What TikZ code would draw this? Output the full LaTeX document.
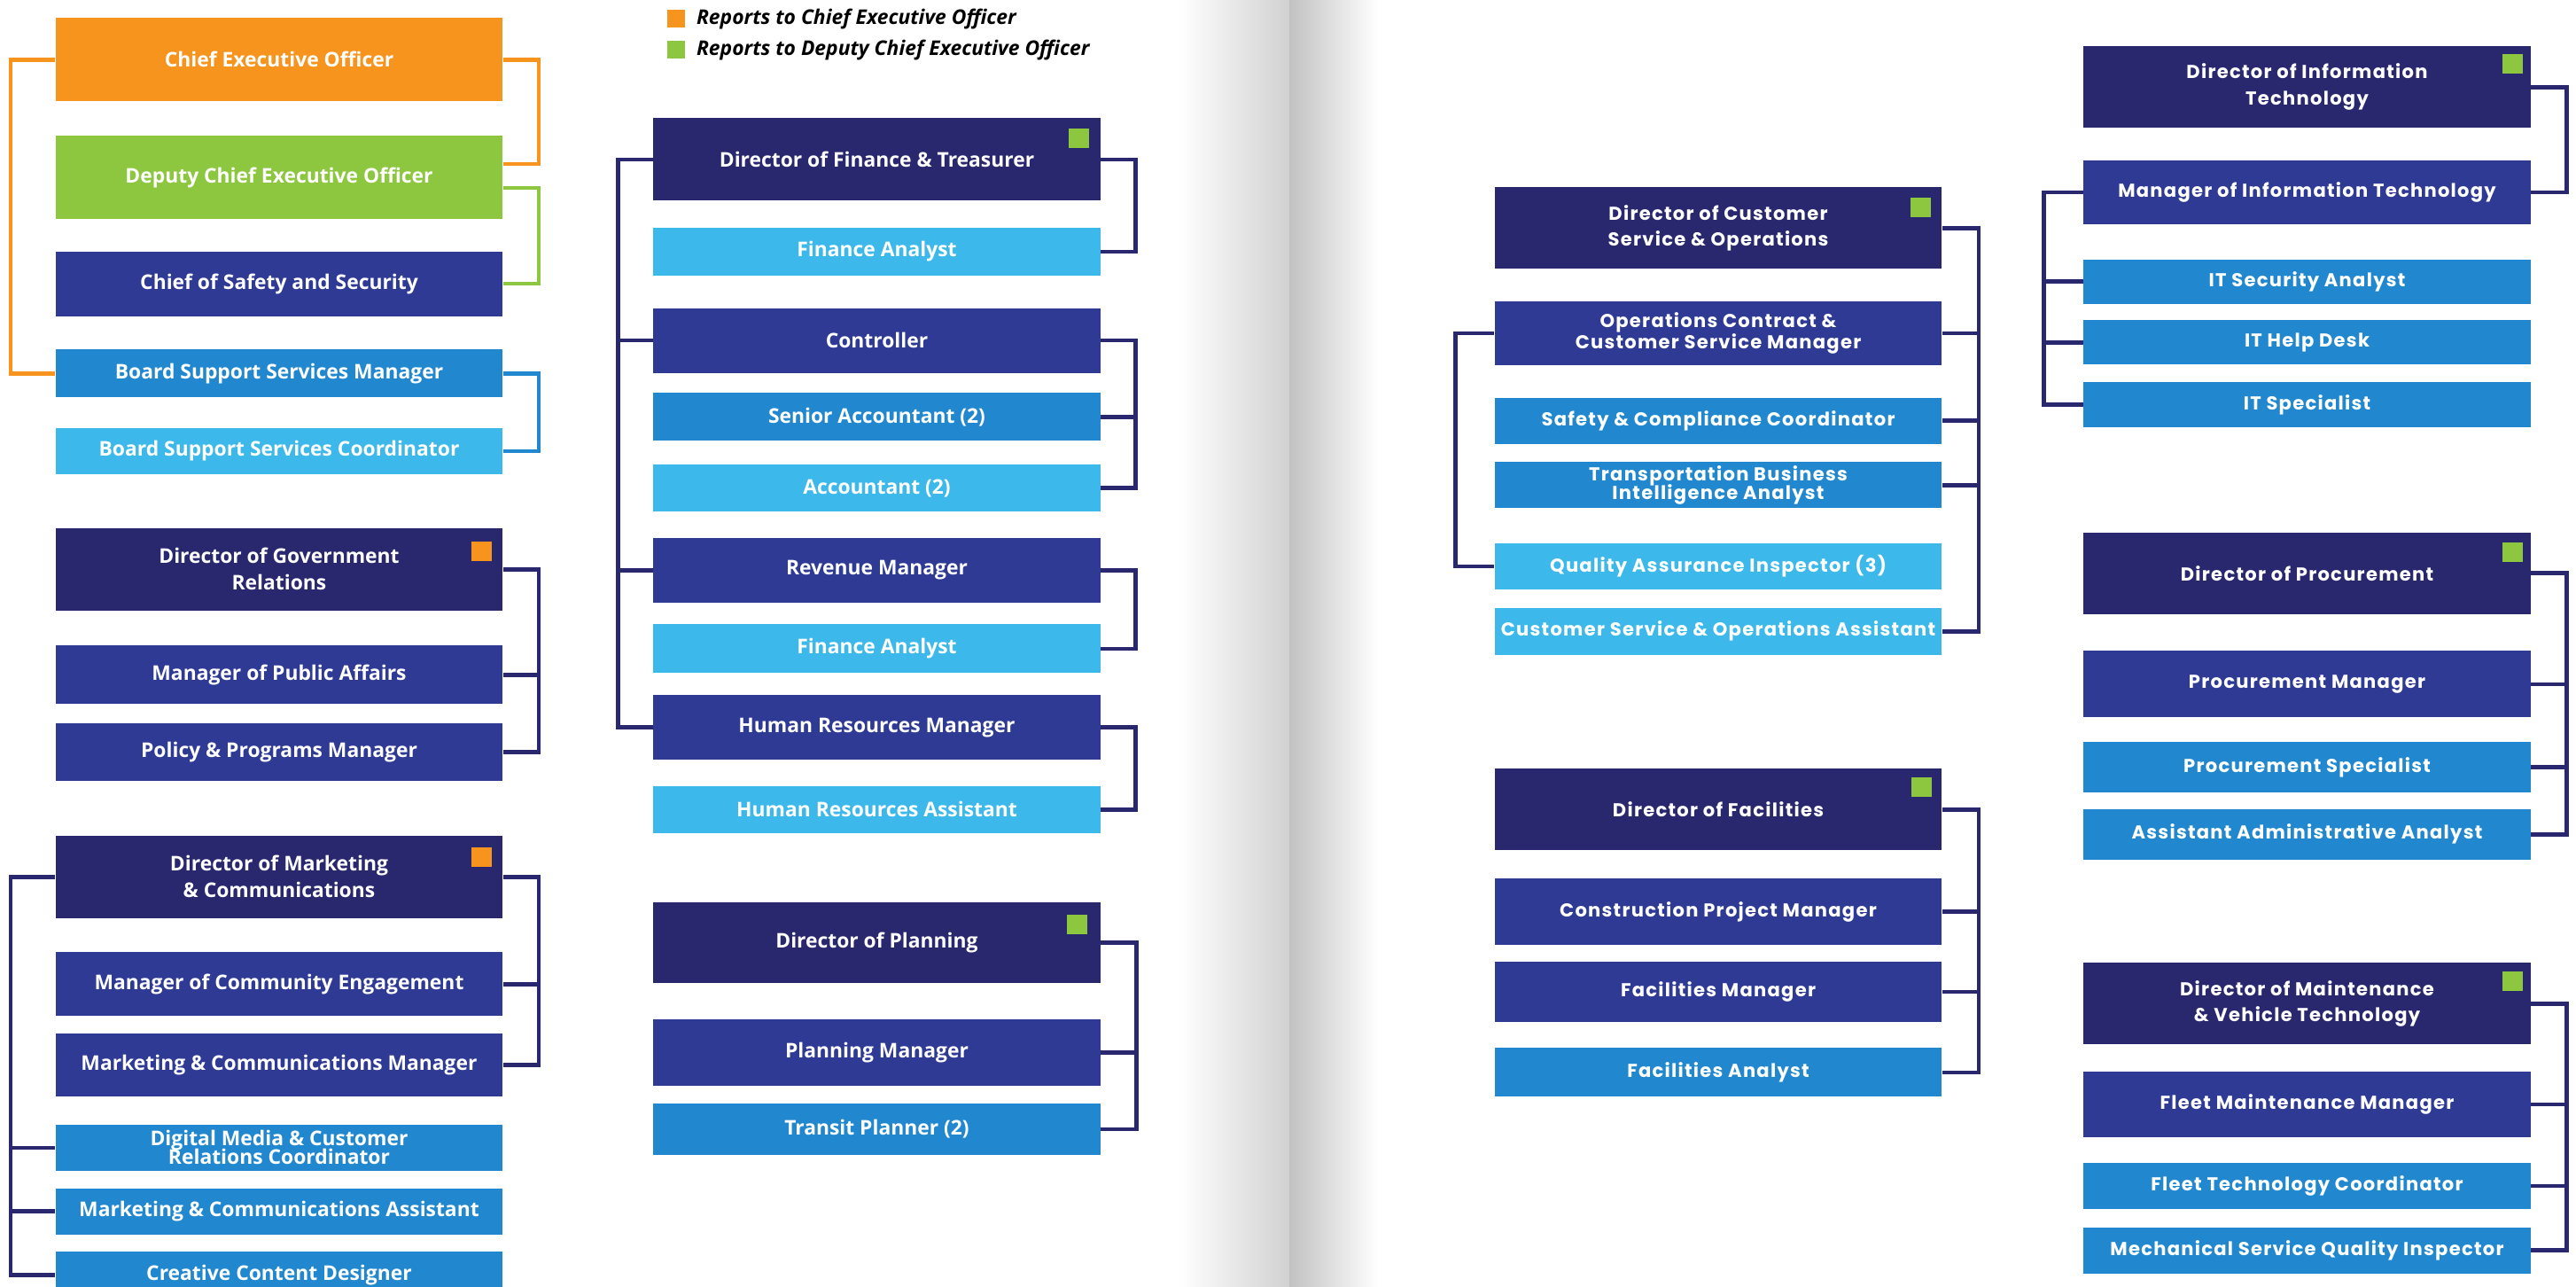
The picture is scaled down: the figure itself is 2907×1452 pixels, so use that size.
\documentclass[tikz,border=0pt]{standalone}
\usepackage{fontspec}
\setmainfont{Open Sans}
\newfontfamily\widefont{Poppins}[LetterSpace=6]
\usetikzlibrary{positioning}

\definecolor{orgorange}{HTML}{F7941D}
\definecolor{orggreen}{HTML}{8DC63F}
\definecolor{orgnavy}{HTML}{29286E}
\definecolor{orgroyal}{HTML}{2E3A94}
\definecolor{orgmid}{HTML}{2188CF}
\definecolor{orglight}{HTML}{3CB9EA}

\newcommand{\lpost}{\fontsize{13}{14}\selectfont\bfseries}
\newcommand{\rpost}{\widefont\fontsize{12}{13.5}\selectfont\bfseries}
\newcommand{\keyfont}{\fontsize{13}{14}\selectfont\bfseries\itshape}

\begin{document}
\begin{tikzpicture}[x=0.02cm, y=-0.02cm,
  post/.style={rectangle,inner sep=0pt,minimum width=10.1cm,text=white,align=center,font=\lpost},
  ceobox/.style={post,fill=orgorange},
  depbox/.style={post,fill=orggreen},
  dirbox/.style={post,fill=orgnavy},
  mgrbox/.style={post,fill=orgroyal},
  staffbox/.style={post,fill=orgmid},
  aidebox/.style={post,fill=orglight},
  rp/.style={font=\rpost},
  orgtag/.style={rectangle,inner sep=0pt,minimum width=0.46cm,minimum height=0.44cm,anchor=north east},
  link/.style={line width=2.6pt,draw=orgnavy},
  keybox/.style={rectangle,inner sep=0pt,minimum size=0.4cm,anchor=north west},
  keytext/.style={inner sep=0pt,font=\keyfont,text=black}]
\useasboundingbox (0,0) rectangle (2907,1452);
\fill[white] (0,0) rectangle (2907,1452);
% page gutter
\shade[left color=white,right color=black!18] (1330,0) rectangle (1455,1452);
\shade[left color=black!24,right color=white] (1455,0) rectangle (1555,1452);

% legend
\node[keybox,fill=orgorange] (keyceo) at (753,11) {};
\node[keytext,right=0.24cm of keyceo] (keyceotext) {Reports to Chief Executive Officer};
\node[keybox,fill=orggreen] (keydep) at (753,46) {};
\node[keytext,right=0.24cm of keydep] (keydeptext) {Reports to Deputy Chief Executive Officer};

% executive office
\node[ceobox,anchor=north,minimum height=1.88cm] (ceo) at (315,20) {Chief Executive Officer};
\node[depbox,below=0.76cm of ceo,minimum height=1.88cm] (dceo) {Deputy Chief Executive Officer};
\node[mgrbox,below=0.72cm of dceo,minimum height=1.46cm] (css) {Chief of Safety and Security};
\node[staffbox,below=0.74cm of css,minimum height=1.08cm] (bssm) {Board Support Services Manager};
\node[aidebox,below=0.68cm of bssm,minimum height=1.04cm] (bssc) {Board Support Services Coordinator};
\draw[link,draw=orgorange] (ceo.west) -- ++(-1cm,0) |- (bssm.west);
\draw[link,draw=orgorange] (ceo.east) -- ++(0.8cm,0) |- ([yshift=0.3cm]dceo.east);
\draw[link,draw=orggreen] ([yshift=-0.24cm]dceo.east) -- ++(0.8cm,0) |- (css.east);
\draw[link,draw=orgmid] (bssm.east) -- ++(0.8cm,0) |- (bssc.east);

% government relations
\node[dirbox,below=1.2cm of bssc,minimum height=1.86cm] (dgr) {Director of Government\\[3pt]Relations};
\node[mgrbox,below=0.78cm of dgr,minimum height=1.32cm] (mpa) {Manager of Public Affairs};
\node[mgrbox,below=0.42cm of mpa,minimum height=1.30cm] (ppm) {Policy \& Programs Manager};
\node[orgtag,fill=orgorange] (dgrtag) at ([xshift=-0.24cm,yshift=-0.3cm]dgr.north east) {};
\draw[link] (dgr.east) -- ++(0.8cm,0) coordinate (dgrx) |- (ppm.east);
\draw[link] (mpa.east) -- (mpa.east -| dgrx);

% marketing
\node[dirbox,below=1.22cm of ppm,minimum height=1.86cm] (dmc) {Director of Marketing\\[3pt]\& Communications};
\node[mgrbox,below=0.76cm of dmc,minimum height=1.44cm] (mce) {Manager of Community Engagement};
\node[mgrbox,below=0.38cm of mce,minimum height=1.42cm] (mcm) {Marketing \& Communications Manager};
\node[staffbox,below=0.62cm of mcm,minimum height=1.04cm] (dmcr) {Digital Media \& Customer\\[-2pt]Relations Coordinator};
\node[staffbox,below=0.38cm of dmcr,minimum height=1.04cm] (mca) {Marketing \& Communications Assistant};
\node[staffbox,below=0.38cm of mca,minimum height=1.04cm] (ccd) {Creative Content Designer};
\node[orgtag,fill=orgorange] (dmctag) at ([xshift=-0.24cm,yshift=-0.26cm]dmc.north east) {};
\draw[link] (dmc.east) -- ++(0.8cm,0) coordinate (dmcx) |- (mcm.east);
\draw[link] (mce.east) -- (mce.east -| dmcx);
\draw[link] (dmc.west) -- ++(-1cm,0) coordinate (dmcw) |- (ccd.west);
\draw[link] (dmcr.west) -- (dmcr.west -| dmcw);
\draw[link] (mca.west) -- (mca.west -| dmcw);

% finance
\node[dirbox,anchor=north,minimum height=1.86cm] (dfin) at (989.5,133) {Director of Finance \& Treasurer};
\node[aidebox,below=0.6cm of dfin,minimum height=1.08cm] (fina) {Finance Analyst};
\node[mgrbox,below=0.72cm of fina,minimum height=1.46cm] (ctrl) {Controller};
\node[staffbox,below=0.44cm of ctrl,minimum height=1.08cm] (sacc) {Senior Accountant (2)};
\node[aidebox,below=0.52cm of sacc,minimum height=1.06cm] (acc) {Accountant (2)};
\node[mgrbox,below=0.58cm of acc,minimum height=1.46cm] (rev) {Revenue Manager};
\node[aidebox,below=0.48cm of rev,minimum height=1.10cm] (finb) {Finance Analyst};
\node[mgrbox,below=0.48cm of finb,minimum height=1.46cm] (hrm) {Human Resources Manager};
\node[aidebox,below=0.58cm of hrm,minimum height=1.06cm] (hra) {Human Resources Assistant};
\node[orgtag,fill=orggreen] (dfintag) at ([xshift=-0.26cm,yshift=-0.24cm]dfin.north east) {};
\draw[link] (dfin.west) -- ++(-0.78cm,0) coordinate (finw) |- (hrm.west);
\draw[link] (ctrl.west) -- (ctrl.west -| finw);
\draw[link] (rev.west) -- (rev.west -| finw);
\draw[link] (dfin.east) -- ++(0.78cm,0) |- (fina.east);
\draw[link] (ctrl.east) -- ++(0.78cm,0) coordinate (ctrlx) |- (acc.east);
\draw[link] (sacc.east) -- (sacc.east -| ctrlx);
\draw[link] (rev.east) -- ++(0.78cm,0) |- (finb.east);
\draw[link] (hrm.east) -- ++(0.78cm,0) |- (hra.east);

% planning
\node[dirbox,below=1.54cm of hra,minimum height=1.84cm] (dplan) {Director of Planning};
\node[mgrbox,below=0.8cm of dplan,minimum height=1.5cm] (plm) {Planning Manager};
\node[staffbox,below=0.38cm of plm,minimum height=1.16cm] (tpl) {Transit Planner (2)};
\node[orgtag,fill=orggreen] (dplantag) at ([xshift=-0.3cm,yshift=-0.28cm]dplan.north east) {};
\draw[link] (dplan.east) -- ++(0.8cm,0) coordinate (planx) |- (tpl.east);
\draw[link] (plm.east) -- (plm.east -| planx);

% customer service and operations
\node[dirbox,rp,anchor=north,minimum height=1.84cm] (dcso) at (1939,211) {Director of Customer\\[3.5pt]Service \& Operations};
\node[mgrbox,rp,below=0.72cm of dcso,minimum height=1.44cm] (ops) {Operations Contract \&\\Customer Service Manager};
\node[staffbox,rp,below=0.72cm of ops,minimum height=1.04cm] (saf) {Safety \& Compliance Coordinator};
\node[staffbox,rp,below=0.4cm of saf,minimum height=1.04cm] (tbi) {Transportation Business\\[-1.5pt]Intelligence Analyst};
\node[aidebox,rp,below=0.78cm of tbi,minimum height=1.04cm] (qai) {Quality Assurance Inspector (3)};
\node[aidebox,rp,below=0.4cm of qai,minimum height=1.06cm] (csoa) {Customer Service \& Operations Assistant};
\node[orgtag,fill=orggreen] (dcsotag) at ([xshift=-0.24cm,yshift=-0.24cm]dcso.north east) {};
\draw[link] (dcso.east) -- ++(0.82cm,0) coordinate (csox) |- (csoa.east);
\draw[link] (ops.east) -- (ops.east -| csox);
\draw[link] (saf.east) -- (saf.east -| csox);
\draw[link] (tbi.east) -- (tbi.east -| csox);
\draw[link] (ops.west) -- ++(-0.88cm,0) |- (qai.west);

% facilities
\node[dirbox,rp,below=2.56cm of csoa,minimum height=1.84cm] (dfac) {Director of Facilities};
\node[mgrbox,rp,below=0.62cm of dfac,minimum height=1.5cm] (cpm) {Construction Project Manager};
\node[mgrbox,rp,below=0.36cm of cpm,minimum height=1.36cm] (fmg) {Facilities Manager};
\node[staffbox,rp,below=0.58cm of fmg,minimum height=1.1cm] (fan) {Facilities Analyst};
\node[orgtag,fill=orggreen] (dfactag) at ([xshift=-0.22cm,yshift=-0.2cm]dfac.north east) {};
\draw[link] (dfac.east) -- ++(0.82cm,0) coordinate (facx) |- (fan.east);
\draw[link] (cpm.east) -- (cpm.east -| facx);
\draw[link] (fmg.east) -- (fmg.east -| facx);

% information technology
\node[dirbox,rp,anchor=north,minimum height=1.84cm] (dit) at (2603.5,52) {Director of Information\\[3.5pt]Technology};
\node[mgrbox,rp,below=0.72cm of dit,minimum height=1.44cm] (mit) {Manager of Information Technology};
\node[staffbox,rp,below=0.78cm of mit,minimum height=1.0cm] (itsec) {IT Security Analyst};
\node[staffbox,rp,below=0.36cm of itsec,minimum height=1.0cm] (itdesk) {IT Help Desk};
\node[staffbox,rp,below=0.38cm of itdesk,minimum height=1.02cm] (itspec) {IT Specialist};
\node[orgtag,fill=orggreen] (dittag) at ([xshift=-0.18cm,yshift=-0.18cm]dit.north east) {};
\draw[link] (dit.east) -- ++(0.8cm,0) |- (mit.east);
\draw[link] (mit.west) -- ++(-0.88cm,0) coordinate (mitw) |- (itspec.west);
\draw[link] (itsec.west) -- (itsec.west -| mitw);
\draw[link] (itdesk.west) -- (itdesk.west -| mitw);

% procurement
\node[dirbox,rp,below=2.36cm of itspec,minimum height=1.84cm] (dproc) {Director of Procurement};
\node[mgrbox,rp,below=0.82cm of dproc,minimum height=1.5cm] (prm) {Procurement Manager};
\node[staffbox,rp,below=0.54cm of prm,minimum height=1.14cm] (prs) {Procurement Specialist};
\node[staffbox,rp,below=0.36cm of prs,minimum height=1.14cm] (aaa) {Assistant Administrative Analyst};
\node[orgtag,fill=orggreen] (dproctag) at ([xshift=-0.18cm,yshift=-0.22cm]dproc.north east) {};
\draw[link] (dproc.east) -- ++(0.8cm,0) coordinate (procx) |- (aaa.east);
\draw[link] (prm.east) -- (prm.east -| procx);
\draw[link] (prs.east) -- (prs.east -| procx);

% maintenance
\node[dirbox,rp,below=2.32cm of aaa,minimum height=1.84cm] (dmaint) {Director of Maintenance\\[3.5pt]\& Vehicle Technology};
\node[mgrbox,rp,below=0.6cm of dmaint,minimum height=1.48cm] (fmm) {Fleet Maintenance Manager};
\node[staffbox,rp,below=0.56cm of fmm,minimum height=1.04cm] (ftc) {Fleet Technology Coordinator};
\node[staffbox,rp,below=0.4cm of ftc,minimum height=1.04cm] (msqi) {Mechanical Service Quality Inspector};
\node[orgtag,fill=orggreen] (dmainttag) at ([xshift=-0.18cm,yshift=-0.2cm]dmaint.north east) {};
\draw[link] (dmaint.east) -- ++(0.8cm,0) coordinate (maintx) |- (msqi.east);
\draw[link] (fmm.east) -- (fmm.east -| maintx);
\draw[link] (ftc.east) -- (ftc.east -| maintx);
\end{tikzpicture}
\end{document}
